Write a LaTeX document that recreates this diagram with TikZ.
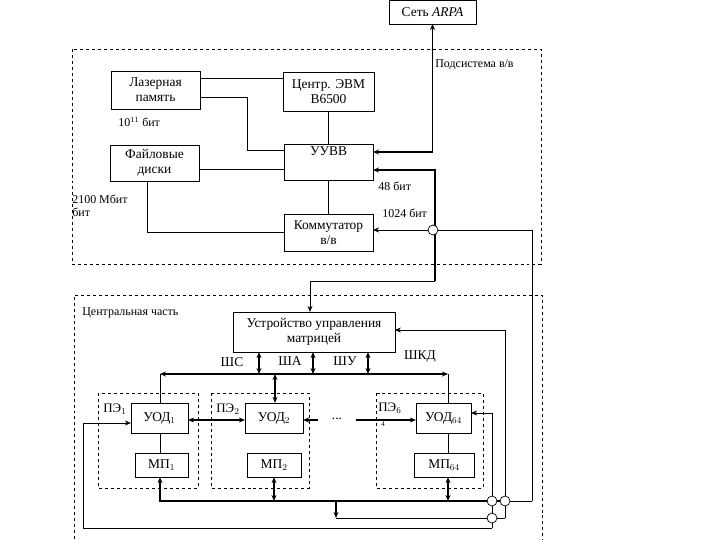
\documentclass[tikz,border=0pt]{standalone}
\usepackage{fontspec}
\setmainfont{Liberation Serif}
\usepackage{tikz}
\usetikzlibrary{arrows.meta,positioning,calc}
\tikzset{
  blk/.style={draw, thin, align=center, inner sep=1pt, font=\fontsize{13.5}{15}\selectfont},
  frame/.style={draw, dashed, thin},
  bus/.style={line width=1.6pt},
  lbl/.style={font=\fontsize{12}{13.5}\selectfont, inner sep=0pt},
  cross/.style={draw, circle, fill=white, minimum size=10pt, inner sep=0pt}
}
\begin{document}
\begin{tikzpicture}[>={Stealth[length=6pt,width=5pt]}, x=1bp, y=-1bp, line width=0.7pt]
  \useasboundingbox (0,0) rectangle (720,540);

  % Frames
  \draw[frame] (72,49) rectangle (541,264);
  \draw[frame] (74,545) -- (74,295) -- (542,295) -- (542,545);
  \draw[frame] (98,393) rectangle (198,488);
  \draw[frame] (211,393) rectangle (309,488);
  \draw[frame] (376,393) rectangle (483,488);

  % Subsystem blocks
  \node[blk, minimum width=87, minimum height=24] (arpa) at (432.5,12) {Сеть \textit{ARPA}};
  \node[blk, minimum width=89, minimum height=38] (laser) at (155.5,90) {Лазерная\\память};
  \node[blk, minimum width=91, minimum height=39] (evm) at (328.5,91.5) {Центр. ЭВМ\\В6500};
  \node[blk, minimum width=89, minimum height=36] (files) at (154.5,163) {Файловые\\диски};
  \node[blk, minimum width=89, minimum height=36] (uuvv) at (328.5,162) {УУВВ\\[6pt]};
  \node[blk, minimum width=89, minimum height=37] (komm) at (328.5,232.5) {Коммутатор\\в/в};

  % Central part blocks
  \node[blk, minimum width=162, minimum height=40] (umat) at (314,332) {Устройство управления\\матрицей};
  \node[blk, minimum width=57, minimum height=30] (uod1) at (159.5,418) {УОД$_1$};
  \node[blk, minimum width=53, minimum height=24] (mp1) at (161.5,465) {МП$_1$};
  \node[blk, minimum width=58, minimum height=30] (uod2) at (274,418) {УОД$_2$};
  \node[blk, minimum width=54, minimum height=24] (mp2) at (274,465) {МП$_2$};
  \node[blk, minimum width=55, minimum height=30] (uod64) at (443.5,418) {УОД$_{64}$};
  \node[blk, minimum width=60, minimum height=24] (mp64) at (444,465) {МП$_{64}$};

  % Labels
  \node[lbl, anchor=west] (lsub) at (435,65) {Подсистема в/в};
  \node[lbl, anchor=west] (lcap) at (118,122) {10$^{11}$ бит};
  \node[lbl, anchor=west, align=left] (lmbit) at (72,206) {2100 Мбит\\бит};
  \node[lbl, anchor=west] (l48) at (378,186) {48 бит};
  \node[lbl, anchor=west] (l1024) at (382,213) {1024 бит};
  \node[lbl, anchor=west] (lcent) at (82,313) {Центральная часть};
  \node[lbl, font=\fontsize{13.5}{15}\selectfont] (lsc) at (232,362) {ШС};
  \node[lbl, font=\fontsize{13.5}{15}\selectfont] (lsa) at (290,361) {ША};
  \node[lbl, font=\fontsize{13.5}{15}\selectfont] (lsu) at (345,361) {ШУ};
  \node[lbl, font=\fontsize{13.5}{15}\selectfont] (lskd) at (420,357) {ШКД};
  \node[lbl, anchor=west, font=\fontsize{13}{15}\selectfont] (lpe1) at (103,409) {ПЭ$_1$};
  \node[lbl, anchor=west, font=\fontsize{13}{15}\selectfont] (lpe2) at (216,409) {ПЭ$_2$};
  \node[lbl, anchor=west, font=\fontsize{13}{15}\selectfont] (lpe64) at (378,408) {ПЭ$_6$};
  \node[lbl, anchor=west, font=\fontsize{7}{8}\selectfont] (lpe4) at (381,424) {4};
  \node[lbl, font=\fontsize{13.5}{15}\selectfont] (dots) at (337,419) {...};

  % Subsystem connections
  \draw (laser.east |- 0,78) -- (evm.west |- 0,78);
  \draw (laser.east |- 0,97) -| (247,150) -- (uuvv.west |- 0,150);
  \draw (files.east |- 0,169) -- (uuvv.west |- 0,169);
  \draw (files.south -| 147,0) |- (komm.west);
  \draw (evm) -- (uuvv);
  \draw (uuvv) -- (komm);
  \draw[bus, <->] (arpa.south |- 0,24) |- (uuvv.east |- 0,152);
  \coordinate (tdn) at (310,281);
  \draw[bus, ->] (435,281) |- (uuvv.east |- 0,170);
  \draw[->] (435,281) -- (tdn) -- (umat.north -| tdn);
  \coordinate (rr) at (532,501);
  \draw[->] (rr) |- (532,230) -- (komm.east |- 0,230);

  % Buses of the matrix
  \coordinate (bl) at (160,374);
  \coordinate (br) at (448,374);
  \draw[bus, <->] (bl) -- (br);
  \draw (bl) -- (bl |- uod1.north);
  \draw (br) -- (br |- uod64.north);
  \draw[bus, <->] (umat.south -| 259,0) -- (259,374);
  \draw[bus, <->] (umat.south -| 313,0) -- (313,374);
  \draw[bus, <->] (umat.south -| 368,0) -- (368,374);
  \draw[bus, <->] (275,374) -- (uod2.north -| 275,0);

  % Links between elements
  \draw[bus, <->] (uod1.east |- 0,420) -- (uod2.west |- 0,420);
  \draw[bus, <-] (uod2.east |- 0,420) -- (318,420);
  \draw[bus, ->] (356,420) -- (uod64.west |- 0,420);
  \draw (uod1.south -| 160,0) -- (mp1.north -| 160,0);
  \draw (uod64.south -| 448,0) -- (mp64.north -| 448,0);

  % Memory bus
  \draw (rr) -- (505,501);
  \draw[bus, ->] (505,501) -- (160,501) -- (mp1.south -| 160,0);
  \draw[bus, <->] (mp2.south -| 274,0) -- (274,501);
  \draw[bus, <->] (mp64.south -| 448,0) -- (448,501);
  \draw[bus, ->] (336,501) -- (336,518);
  \draw (336,518) -- (505,518);
  \draw[->] (505,518) |- (umat.east |- 0,330);
  \draw[->] (492,528) |- (uod64.east |- 0,413);
  \draw[->] (492,528) -- (83,528) |- (uod1.west |- 0,423);

  % Crossings
  \node[cross] (c1) at (433,230) {};
  \node[cross] (c2) at (492,501) {};
  \node[cross] (c3) at (505,501) {};
  \node[cross] (c4) at (492,518) {};
\end{tikzpicture}
\end{document}
